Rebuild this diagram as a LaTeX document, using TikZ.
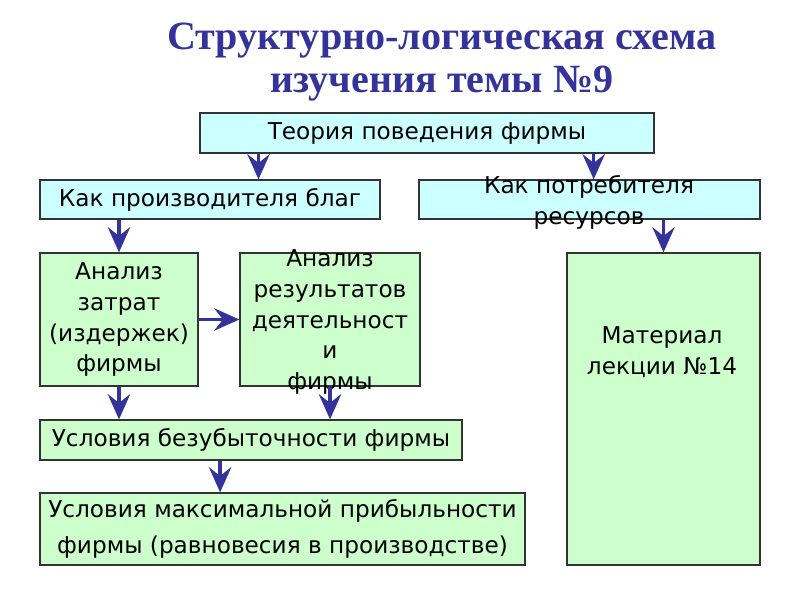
\documentclass[tikz,border=0pt]{standalone}
\usepackage{fontspec}
\setmainfont{DejaVu Sans}
\newfontfamily\titlefont{Liberation Serif}
\usetikzlibrary{arrows.meta,positioning,calc}
\definecolor{schemeCyan}{RGB}{204,255,255}
\definecolor{schemeGreen}{RGB}{204,255,204}
\definecolor{schemeBlue}{RGB}{51,51,153}
\definecolor{schemeEdge}{RGB}{51,51,51}

\begin{document}
\begin{tikzpicture}[
  x=0.025cm, y=-0.025cm,
  cyanbox/.style={draw=schemeEdge,line width=0.9pt,fill=schemeCyan,inner sep=0pt,align=center,font=\fontsize{16.5}{22}\selectfont},
  greenbox/.style={draw=schemeEdge,line width=0.9pt,fill=schemeGreen,inner sep=0pt,align=center,font=\fontsize{16.5}{22}\selectfont},
  boxtext/.style={inner sep=0pt,align=center,font=\fontsize{16.5}{22}\selectfont},
  arrow/.style={-{Stealth[length=6.3mm,width=5.6mm,inset=2.2mm]},line width=2.4pt,draw=schemeBlue}
]
\useasboundingbox (0,0) rectangle (800,600);

% title
\node[align=center,text=schemeBlue,font=\titlefont\bfseries\fontsize{28.5}{31}\selectfont] (title) at (442,62)
  {Структурно-логическая схема\\изучения темы №9};

% upper level
\node[cyanbox,minimum width=11.35cm,minimum height=1cm] (theory) at (427,133) {Теория поведения фирмы};
\node[cyanbox,minimum width=8.5cm,minimum height=0.975cm] (prod) at (210,199.5) {Как производителя благ};
\node[cyanbox,minimum width=8.525cm,minimum height=0.975cm] (cons) at (589.5,199.5) {};
\node[boxtext] (constext) at (589,202.5) {Как потребителя\\ресурсов};

% analysis
\node[greenbox,minimum width=3.95cm,minimum height=3.325cm] (costs) at (119,319.5) {Анализ\\затрат\\(издержек)\\фирмы};
\node[greenbox,minimum width=4.5cm,minimum height=3.325cm] (results) at (330,319.5) {};
\node[boxtext] (resultstext) at (330,322) {Анализ\\результатов\\деятельност\\и\\фирмы};
\node[greenbox,minimum width=4.825cm,minimum height=7.8cm] (lecture) at (663.5,409) {};
\node[boxtext] (lecturetext) at (662,352) {Материал\\лекции №14};

% conditions
\node[greenbox,minimum width=10.55cm,minimum height=1cm] (brk) at (251,440) {Условия безубыточности фирмы};
\node[greenbox,minimum width=12.125cm,minimum height=1.8cm,font=\fontsize{16.5}{26}\selectfont] (maxp) at (282.5,529)
  {Условия максимальной прибыльности\\фирмы (равновесия в производстве)};

% arrows
\coordinate (t1) at ($(theory.south west)!0.13!(theory.south east)$);
\coordinate (t2) at ($(theory.south west)!0.866!(theory.south east)$);
\coordinate (b1) at ($(brk.south west)!0.427!(brk.south east)$);
\draw[arrow] (t1) -- (t1 |- prod.north);
\draw[arrow] (t2) -- (t2 |- cons.north);
\draw[arrow] (costs.north |- prod.south) -- (costs.north);
\draw[arrow] (lecture.north |- cons.south) -- (lecture.north);
\draw[arrow] (costs.east) -- (results.west);
\draw[arrow] (costs.south) -- (costs.south |- brk.north);
\draw[arrow] (results.south) -- (results.south |- brk.north);
\draw[arrow] (b1) -- (b1 |- maxp.north);
\end{tikzpicture}
\end{document}
